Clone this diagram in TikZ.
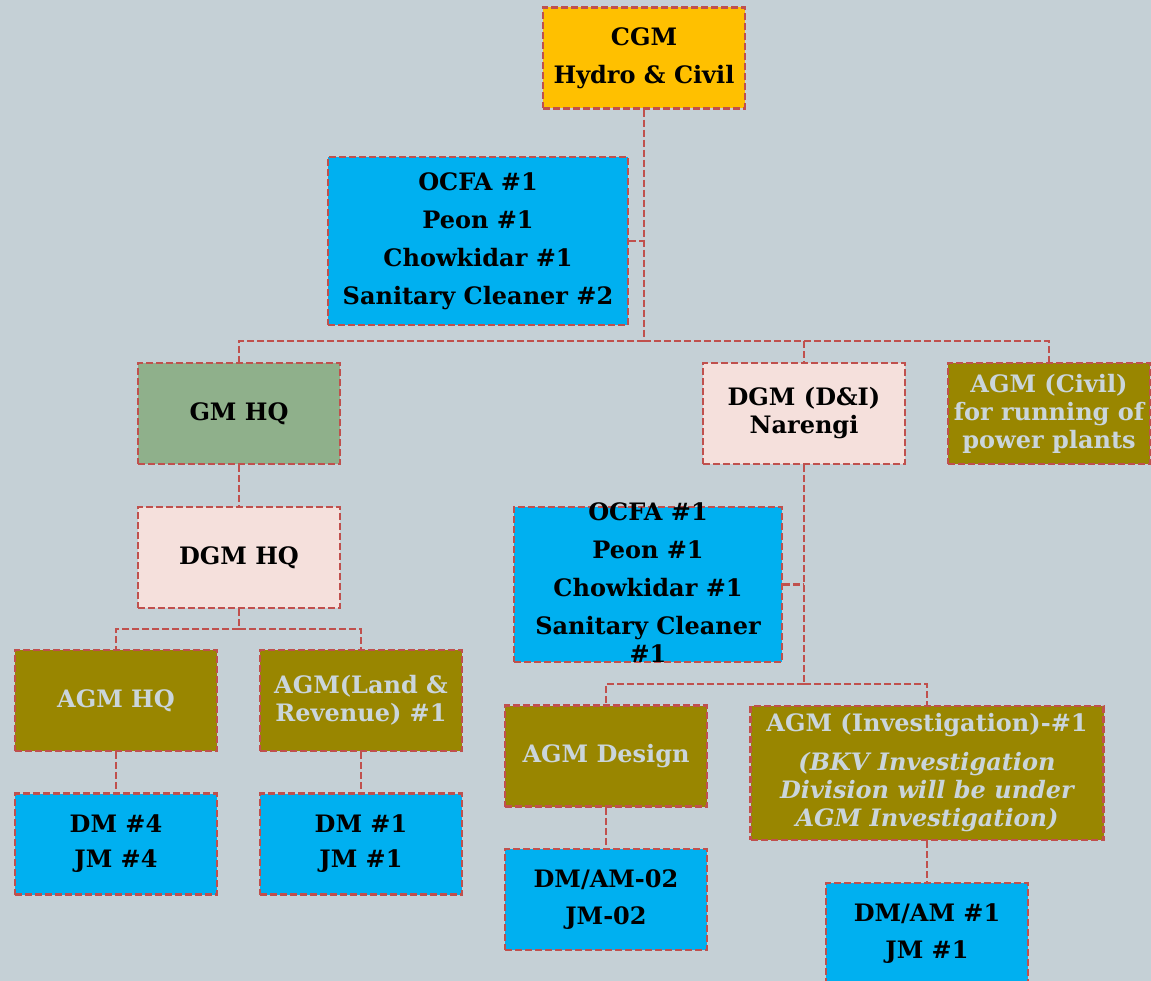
\documentclass[tikz,border=0pt]{standalone}
\usepackage{fontspec}
\setmainfont{DejaVu Serif}
\usepackage{xcolor}
\usetikzlibrary{positioning,calc}
\definecolor{bgblue}{RGB}{197,208,214}
\definecolor{dashred}{RGB}{192,80,77}
\definecolor{staffblue}{RGB}{0,176,240}
\definecolor{headgold}{RGB}{255,192,0}
\definecolor{olive}{RGB}{153,134,0}
\definecolor{sage}{RGB}{143,176,139}
\definecolor{blush}{RGB}{245,224,220}
\definecolor{paletext}{RGB}{202,213,219}
\tikzset{
  box/.style={rectangle, draw=dashred, line width=2.5pt, dash pattern=on 7pt off 3pt,
    minimum width=202pt, minimum height=101pt, inner sep=0pt, align=center,
    font=\fontsize{24}{28}\selectfont\bfseries},
}

\begin{document}
\begin{tikzpicture}[x=1pt,y=-1pt]
      \tikzset{
          head/.style={box, fill=headgold},
          staff/.style={box, fill=staffblue},
          gm/.style={box, fill=sage},
          dgm/.style={box, fill=blush},
          agm/.style={box, fill=olive, text=paletext},
          myline/.style={draw=dashred, line width=2.5pt, dash pattern=on 7pt off 3pt},
      }
      \fill[bgblue] (0,0) rectangle (1151,981);
      \useasboundingbox (0,0) rectangle (1151,981);

      % top level
      \node[head] (itemCGM) at (644,58) {CGM\\[10pt]Hydro \& Civil};
      \node[staff, minimum width=300pt, minimum height=168pt] (itemStaff01) at (478,241)
          {OCFA \#1\\[10pt]Peon \#1\\[10pt]Chowkidar \#1\\[10pt]Sanitary Cleaner \#2};
      \node[gm] (itemGMHQ) at (239,413.5) {GM HQ};
      \node[dgm] (itemDGMDI) at (804,413.5) {DGM (D\&I)\\Narengi};
      \node[agm] (itemAGMCivil) at (1049,413.5) {AGM (Civil)\\for running of\\power plants};

      % left branch
      \node[dgm] (itemDGMHQ) at (239,557.5) {DGM HQ};
      \node[agm] (itemAGMHQ) at (116,700.5) {AGM HQ};
      \node[agm] (itemAGMLand) at (361,700.5) {AGM(Land \&\\Revenue) \#1};
      \node[staff] (itemDM01) at (116,844) {DM \#4\\[7pt]JM \#4};
      \node[staff] (itemDM02) at (361,844) {DM \#1\\[7pt]JM \#1};

      % right branch
      \node[staff, minimum width=268pt, minimum height=155pt] (itemStaff02) at (648,584.5) {};
      \node[font=\fontsize{24}{28}\selectfont\bfseries, align=center, inner sep=0pt] (itemStaff02txt) at (648,583)
          {OCFA \#1\\[10pt]Peon \#1\\[10pt]Chowkidar \#1\\[10pt]Sanitary Cleaner\\\#1};
      \node[agm] (itemAGMDesign) at (606,756) {AGM Design};
      \node[agm, minimum width=353pt, minimum height=134pt] (itemAGMInv) at (927,773)
          {AGM (Investigation)-\#1\\[11pt]\itshape (BKV Investigation\\\itshape Division will be under\\\itshape AGM Investigation)};
      \node[staff] (itemDM03) at (606,899.5) {DM/AM-02\\[9pt]JM-02};
      \node[staff] (itemDM04) at (927,933.5) {DM/AM \#1\\[9pt]JM \#1};

      \coordinate (AuxNode01) at (644,341);
      \coordinate (AuxNode02) at (239,629);
      \coordinate (AuxNode03) at (804,684);

      \path[myline] (itemCGM.south) -- (AuxNode01);
      \path[myline] (itemStaff01.east) -- (itemStaff01.east -| AuxNode01);
      \path[myline] (AuxNode01) -| (itemGMHQ.north);
      \path[myline] (AuxNode01) -| (itemDGMDI.north);
      \path[myline] (AuxNode01) -| (itemAGMCivil.north);

      \path[myline] (itemGMHQ.south) -- (itemDGMHQ.north);
      \path[myline] (itemDGMHQ.south) -- (AuxNode02);
      \path[myline] (AuxNode02) -| (itemAGMHQ.north);
      \path[myline] (AuxNode02) -| (itemAGMLand.north);
      \path[myline] (itemAGMHQ.south) -- (itemDM01.north);
      \path[myline] (itemAGMLand.south) -- (itemDM02.north);

      \path[myline] (itemDGMDI.south) -- (AuxNode03);
      \path[myline] (itemStaff02.east) -- (itemStaff02.east -| AuxNode03);
      \path[myline] (AuxNode03) -| (itemAGMDesign.north);
      \path[myline] (AuxNode03) -| (itemAGMInv.north);
      \path[myline] (itemAGMDesign.south) -- (itemDM03.north);
      \path[myline] (itemAGMInv.south) -- (itemDM04.north);

      \end{tikzpicture}
\end{document}
